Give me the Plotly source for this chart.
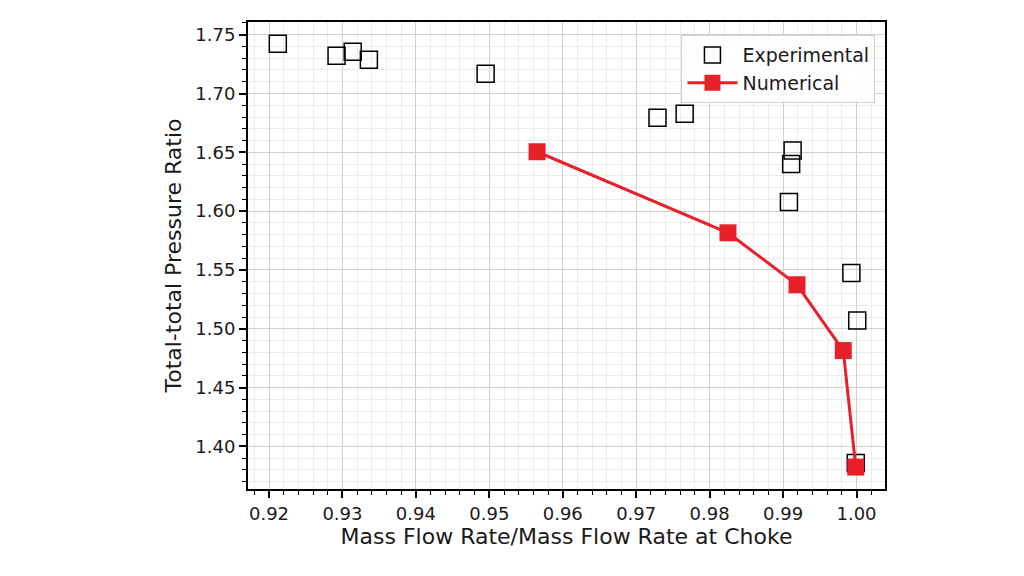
import plotly.graph_objects as go

exp_x = [0.9212, 0.9292, 0.9314, 0.9336, 0.9495, 0.9729, 0.9766, 0.9913, 0.9911, 0.9908, 0.9993, 1.0001, 0.9999]
exp_y = [1.7423, 1.7321, 1.7355, 1.7287, 1.7168, 1.6794, 1.6828, 1.6516, 1.6400, 1.6077, 1.5474, 1.5071, 1.3858]

num_x = [0.9565, 0.9825, 0.9919, 0.9982, 0.9999]
num_y = [1.6505, 1.5816, 1.5374, 1.4815, 1.3824]

x_ticks = [0.92, 0.93, 0.94, 0.95, 0.96, 0.97, 0.98, 0.99, 1.00]
y_ticks = [1.40, 1.45, 1.50, 1.55, 1.60, 1.65, 1.70, 1.75]

RED = "#e8202a"
FONT = "DejaVu Sans"
TXT = "#1a1a1a"

fig = go.Figure()
fig.add_trace(go.Scatter(
    x=exp_x, y=exp_y, mode="markers", name="Experimental",
    marker=dict(symbol="square-open", size=17, color="black", line=dict(width=1.5, color="black")),
))
fig.add_trace(go.Scatter(
    x=num_x, y=num_y, mode="lines+markers", name="Numerical",
    line=dict(color=RED, width=3),
    marker=dict(symbol="square", size=17, color=RED),
))

axis_common = dict(
    showline=True, linecolor="black", linewidth=2, mirror=True,
    ticks="outside", ticklen=7, tickwidth=2, tickcolor="black",
    showgrid=True, gridcolor="#d0d0d0", gridwidth=1,
    zeroline=False,
    tickfont=dict(family=FONT, size=18, color=TXT),
)

fig.update_xaxes(
    range=[0.91714, 1.00388],
    tickvals=x_ticks, ticktext=[f"{v:.2f}" for v in x_ticks],
    title=dict(text="Mass Flow Rate/Mass Flow Rate at Choke", font=dict(family=FONT, size=22, color=TXT), standoff=6),
    minor=dict(dtick=0.002, tick0=0.92, ticks="outside", ticklen=4, tickwidth=1, tickcolor="black",
               showgrid=True, gridcolor="#ececec", gridwidth=1),
    **axis_common,
)
fig.update_yaxes(
    range=[1.3638, 1.7608],
    tickvals=y_ticks, ticktext=[f"{v:.2f}" for v in y_ticks],
    title=dict(text="Total-total Pressure Ratio", font=dict(family=FONT, size=22, color=TXT), standoff=8),
    minor=dict(dtick=0.01, tick0=1.40, ticks="outside", ticklen=4, tickwidth=1, tickcolor="black",
               showgrid=True, gridcolor="#ececec", gridwidth=1),
    **axis_common,
)

fig.update_layout(
    width=1024, height=576,
    margin=dict(l=248, r=139, t=22, b=87),
    paper_bgcolor="white", plot_bgcolor="white",
    font=dict(family=FONT, color=TXT),
    legend=dict(
        x=0.985, y=0.972, xanchor="right", yanchor="top",
        bgcolor="rgba(255,255,255,0.9)", bordercolor="#d0d0d0", borderwidth=1,
        font=dict(family=FONT, size=19, color=TXT),
        itemwidth=50,
    ),
    showlegend=True,
)

fig.write_html("out.html")
